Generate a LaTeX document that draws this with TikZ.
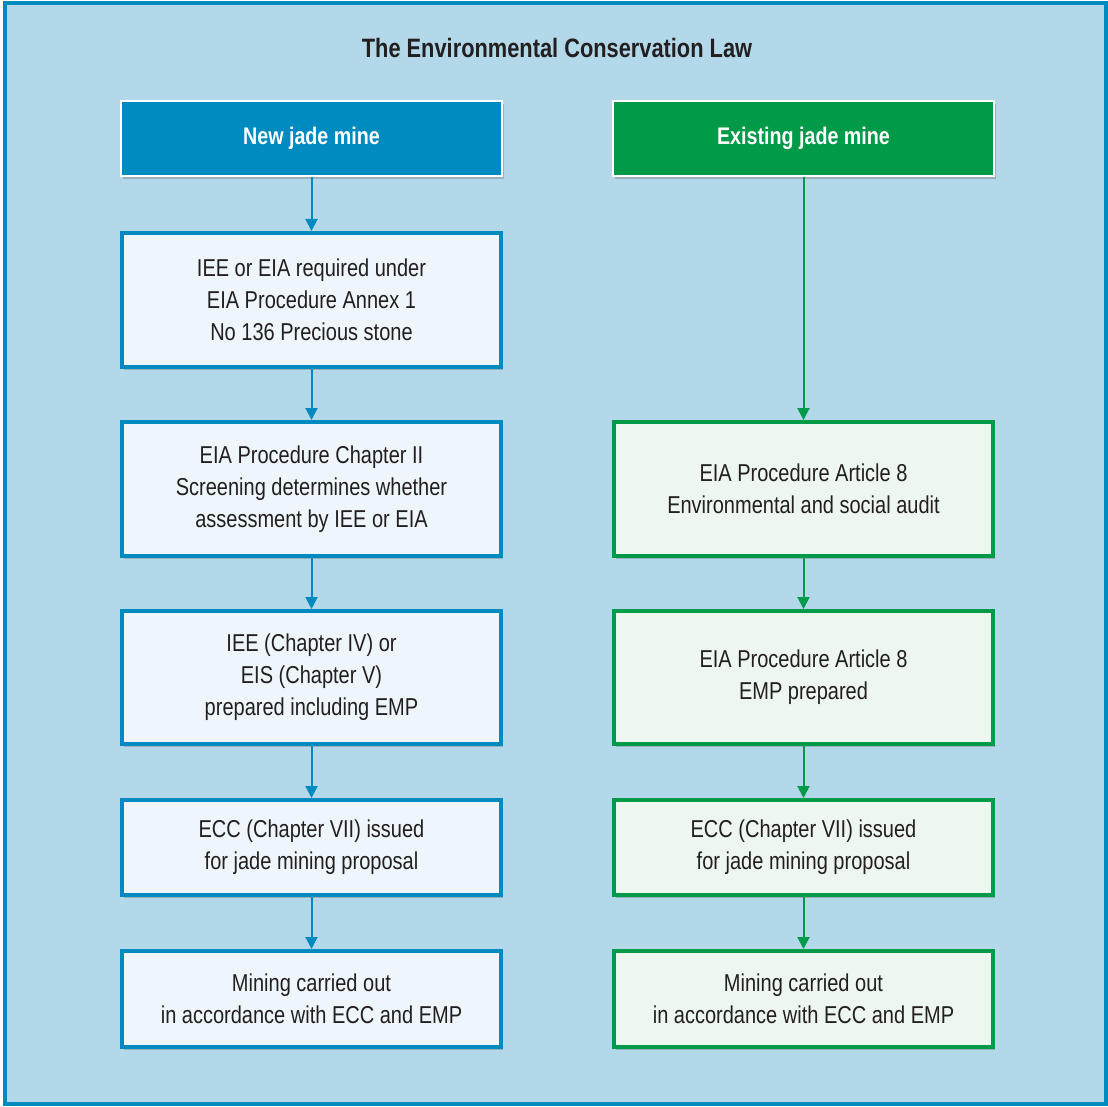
\documentclass[tikz,border=0pt]{standalone}
\usepackage{fontspec}
\setmainfont[FakeStretch=0.82]{Liberation Sans}
\usetikzlibrary{shadows,arrows.meta}
\definecolor{lawbg}{HTML}{B2D8EA}
\definecolor{newblue}{HTML}{008BC0}
\definecolor{oldgreen}{HTML}{009A48}
\definecolor{newfill}{HTML}{EEF6FB}
\definecolor{oldfill}{HTML}{EDF6EF}
\definecolor{txtgray}{HTML}{231F20}
\begin{document}
\begin{tikzpicture}[x=1pt, y=-1pt,
  every node/.style={font=\fontsize{24.4}{32}\selectfont, text=txtgray, align=center},
  boxshadow/.style={drop shadow={shadow xshift=2pt, shadow yshift=-3pt, opacity=0.35, fill=black!60}},
  headbox/.style={draw=white, line width=2pt, minimum width=381, minimum height=75, boxshadow,
    text=white, font=\fontsize{24}{32}\selectfont\bfseries},
  newbox/.style={draw=newblue, fill=newfill, line width=4pt, minimum width=379, boxshadow},
  oldbox/.style={draw=oldgreen, fill=oldfill, line width=4pt, minimum width=379, boxshadow},
  newarrow/.style={draw=newblue, line width=2pt, -{Triangle[length=12pt, width=12pt]}},
  oldarrow/.style={draw=oldgreen, line width=2pt, -{Triangle[length=12pt, width=12pt]}}]

\useasboundingbox (0,0) rectangle (1108,1107);
\draw[newblue, fill=lawbg, line width=4pt] (5,3) rectangle (1106,1104);

\node[font=\fontsize{26.6}{32}\selectfont\bfseries] (title) at (557,48) {The Environmental Conservation Law};

% new jade mine
\node[headbox, fill=newblue] (nhead) at (311.5,138.5) {New jade mine};
\node[newbox, minimum height=134] (n1) at (311.5,300) {IEE or EIA required under\\EIA Procedure Annex 1\\No 136 Precious stone};
\node[newbox, minimum height=134] (n2) at (311.5,489) {EIA Procedure Chapter II\\Screening determines whether\\assessment by IEE or EIA};
\node[newbox, minimum height=133] (n3) at (311.5,677.5) {IEE (Chapter IV) or\\EIS (Chapter V)\\prepared including EMP};
\node[newbox, minimum height=95] (n4) at (311.5,847.5) {ECC (Chapter VII) issued\\for jade mining proposal};
\node[newbox, minimum height=96] (n5) at (311.5,999) {Mining carried out\\in accordance with ECC and EMP};

% existing jade mine
\node[headbox, fill=oldgreen] (ohead) at (803.5,138.5) {Existing jade mine};
\node[oldbox, minimum height=134] (o2) at (803.5,489) {EIA Procedure Article 8\\Environmental and social audit};
\node[oldbox, minimum height=133] (o3) at (803.5,677.5) {EIA Procedure Article 8\\EMP prepared};
\node[oldbox, minimum height=95] (o4) at (803.5,847.5) {ECC (Chapter VII) issued\\for jade mining proposal};
\node[oldbox, minimum height=96] (o5) at (803.5,999) {Mining carried out\\in accordance with ECC and EMP};

\foreach \a/\b in {nhead/n1, n1/n2, n2/n3, n3/n4, n4/n5}{
\draw[newarrow] (\a) -- (\b);}
\foreach \a/\b in {ohead/o2, o2/o3, o3/o4, o4/o5}{
\draw[oldarrow] (\a) -- (\b);}

\end{tikzpicture}
\end{document}
